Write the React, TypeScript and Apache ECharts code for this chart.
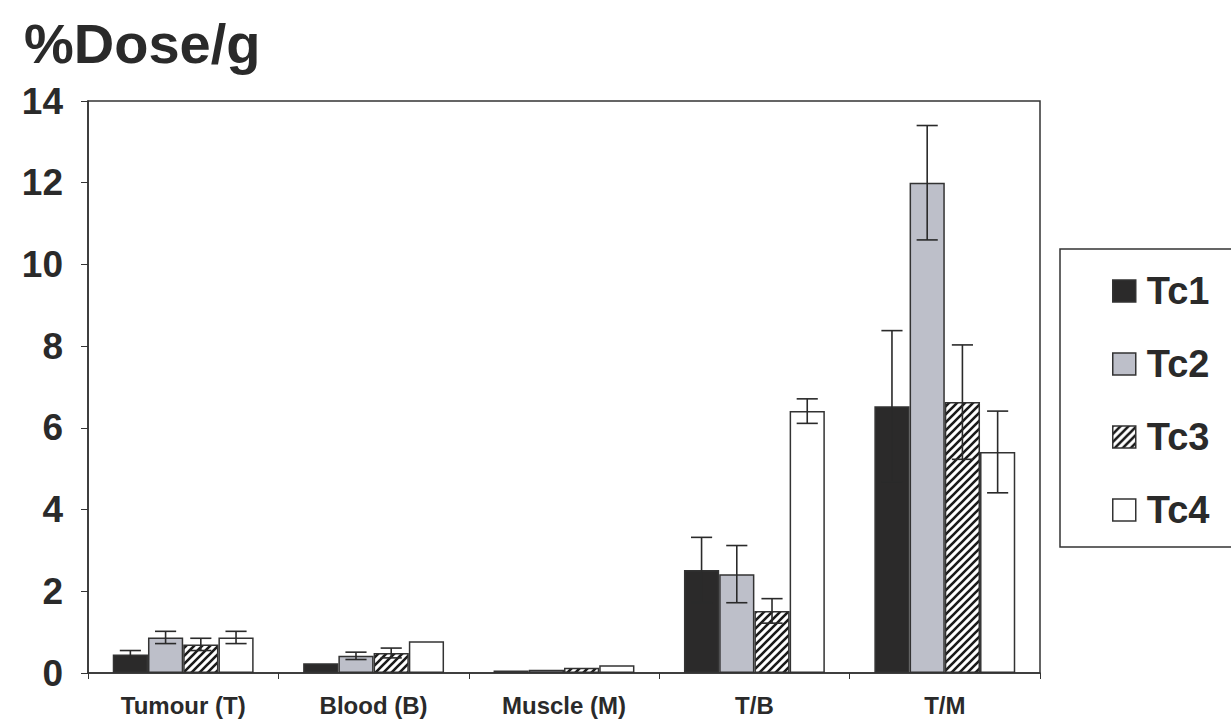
import React, { useEffect, useRef } from "react";
import * as echarts from "echarts";

const categories = ["Tumour (T)", "Blood (B)", "Muscle (M)", "T/B", "T/M"];
const seriesNames = ["Tc1", "Tc2", "Tc3", "Tc4"];
const tc1 = [0.45, 0.24, 0.06, 2.52, 6.53];
const tc2 = [0.87, 0.42, 0.08, 2.42, 12.0];
const tc3 = [0.7, 0.49, 0.13, 1.52, 6.63];
const tc4 = [0.87, 0.78, 0.19, 6.41, 5.41];
const err1 = [0.1, 0, 0, 0.8, 1.85];
const err2 = [0.15, 0.09, 0, 0.7, 1.4];
const err3 = [0.15, 0.12, 0, 0.3, 1.4];
const err4 = [0.15, 0, 0, 0.3, 1.0];
const yTicks = [0, 2, 4, 6, 8, 10, 12, 14];

const FONT = "'Liberation Sans', Arial, sans-serif";
const NARROW = "'Liberation Sans Narrow', 'Arial Narrow', 'Liberation Sans', Arial, sans-serif";

function makeHatch(): HTMLCanvasElement {
  const c = document.createElement("canvas");
  const s = 8;
  c.width = s;
  c.height = s;
  const ctx = c.getContext("2d")!;
  ctx.fillStyle = "#ffffff";
  ctx.fillRect(0, 0, s, s);
  ctx.strokeStyle = "#1a1a1a";
  ctx.lineWidth = 2.6;
  ctx.beginPath();
  ctx.moveTo(0, s);
  ctx.lineTo(s, 0);
  ctx.moveTo(-s / 2, s / 2);
  ctx.lineTo(s / 2, -s / 2);
  ctx.moveTo(s / 2, s * 1.5);
  ctx.lineTo(s * 1.5, s / 2);
  ctx.stroke();
  return c;
}

export default function App() {
  const ref = useRef<HTMLDivElement>(null);
  useEffect(() => {
    if (!ref.current) return;
    const chart = echarts.init(ref.current, undefined, { renderer: "svg" });
    const hatch = makeHatch();
    const values = [tc1, tc2, tc3, tc4];
    const errs = [err1, err2, err3, err4];
    const colors: any[] = [
      "#2b2a2a",
      "#bdbfc9",
      { image: hatch, repeat: "repeat" },
      "#ffffff",
    ];
    const gapFrac = 0.26;
    const barSeries = seriesNames.map((name, i) => ({
      name,
      type: "bar",
      barGap: "0%",
      barCategoryGap: "26%",
      data: values[i],
      itemStyle: { color: colors[i], borderColor: "#333", borderWidth: 1.5 },
      z: 2,
    }));
    const errSeries = seriesNames.map((name, i) => ({
      name: "err_" + name,
      type: "custom",
      z: 5,
      encode: { x: 0, y: 1 },
      data: categories.map((_, k) => [k, values[i][k], errs[i][k]]),
      renderItem: (params: any, api: any) => {
        const cat = api.value(0);
        const v = api.value(1);
        const e = api.value(2);
        if (!e) return null;
        const band = api.size([1, 0])[0];
        const bw = (band * (1 - gapFrac)) / 4;
        const off = (i - 1.5) * bw;
        const top = api.coord([cat, v + e]);
        const bot = api.coord([cat, v - e]);
        const x = top[0] + off;
        const cap = bw * 0.3;
        const style = { stroke: "#2a2a2a", lineWidth: 1.6 };
        return {
          type: "group",
          children: [
            { type: "line", shape: { x1: x, y1: top[1], x2: x, y2: bot[1] }, style },
            { type: "line", shape: { x1: x - cap, y1: top[1], x2: x + cap, y2: top[1] }, style },
            { type: "line", shape: { x1: x - cap, y1: bot[1], x2: x + cap, y2: bot[1] }, style },
          ],
        };
      },
    }));
    chart.setOption({
      animation: false,
      backgroundColor: "#ffffff",
      title: {
        text: "%Dose/g",
        left: 19,
        top: 10,
        textStyle: { fontFamily: FONT, fontWeight: "bold", fontSize: 56, color: "#2a2a2a" },
      },
      grid: {
        left: 88,
        right: 191,
        top: 101,
        bottom: 54,
        show: true,
        borderColor: "#333",
        borderWidth: 1.5,
      },
      legend: {
        data: seriesNames,
        orient: "vertical",
        left: 1107,
        top: 266,
        icon: "rect",
        itemWidth: 23,
        itemHeight: 22,
        itemGap: 33,
        textStyle: {
          fontFamily: FONT,
          fontWeight: "bold",
          fontSize: 38,
          color: "#2a2a2a",
          lineHeight: 40,
          padding: [0, 0, 0, 6],
        },
        itemStyle: { borderColor: "#333", borderWidth: 1.5 },
      },
      graphic: [
        {
          type: "rect",
          shape: { x: 1060, y: 249, width: 220, height: 298 },
          style: { fill: "none", stroke: "#333", lineWidth: 1.5 },
          z: -1,
        },
      ],
      xAxis: {
        type: "category",
        data: categories,
        axisLine: { lineStyle: { color: "#333", width: 1.5 } },
        axisTick: { show: true, length: 6, lineStyle: { color: "#333" } },
        axisLabel: {
          fontFamily: NARROW,
          fontWeight: "bold",
          fontSize: 24,
          color: "#2a2a2a",
          margin: 20,
        },
      },
      yAxis: {
        type: "value",
        min: 0,
        max: 14,
        interval: 2,
        axisLine: { show: true, lineStyle: { color: "#333", width: 1.5 } },
        axisTick: { show: true, length: 7, lineStyle: { color: "#333" } },
        splitLine: { show: false },
        axisLabel: {
          fontFamily: FONT,
          fontWeight: "bold",
          fontSize: 37,
          color: "#2a2a2a",
          margin: 25,
          formatter: (v: number) => (yTicks.includes(v) ? String(v) : ""),
        },
      },
      series: [...barSeries, ...errSeries],
    });
    return () => chart.dispose();
  }, []);
  return <div ref={ref} style={{ width: 1231, height: 727, position: "absolute", left: 0, top: 0 }} />;
}
